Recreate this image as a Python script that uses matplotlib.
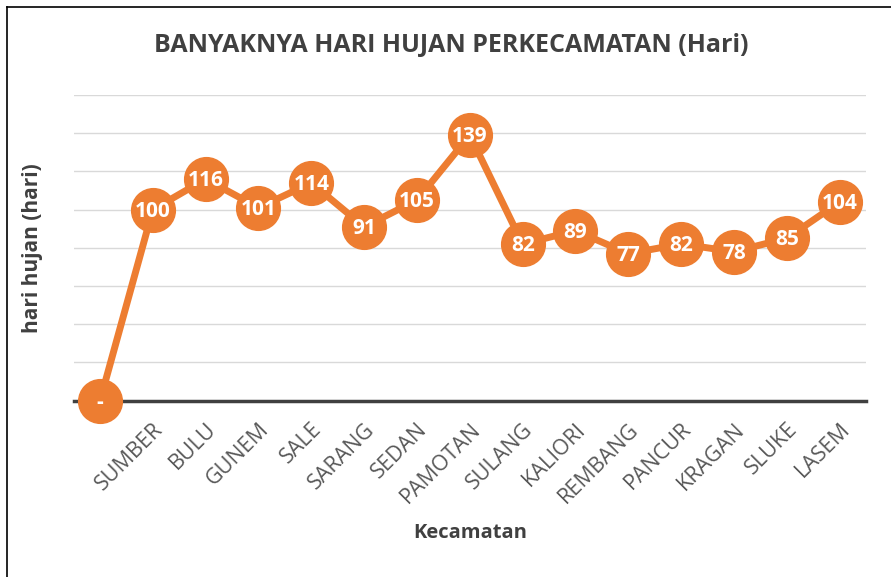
import matplotlib
matplotlib.use("Agg", force=True)

import matplotlib.pyplot as plt
from matplotlib.lines import Line2D

# -----------------------------
# Data
# -----------------------------
kecamatan = ["", "SUMBER", "BULU", "GUNEM", "SALE", "SARANG", "SEDAN", "PAMOTAN",
             "SULANG", "KALIORI", "REMBANG", "PANCUR", "KRAGAN", "SLUKE", "LASEM"]
hari_hujan = [0, 100, 116, 101, 114, 91, 105, 139, 82, 89, 77, 82, 78, 85, 104]
label_teks = ["-", "100", "116", "101", "114", "91", "105", "139", "82", "89",
              "77", "82", "78", "85", "104"]

ORANGE = "#ED7D31"
DARK = "#404040"
GRID = "#D9D9D9"

plt.rcParams["font.family"] = ["Open Sans", "DejaVu Sans"]

fig = plt.figure(figsize=(8.91, 5.77), dpi=100)
ax = fig.add_axes([73.6 / 891, 1 - 400.7 / 577, (866 - 73.6) / 891, (400.7 - 95) / 577])

x = list(range(len(kecamatan)))
ax.plot(x, hari_hujan, color=ORANGE, lw=5, marker="o", ms=31.5, mew=1,
        mfc=ORANGE, mec=ORANGE, clip_on=False, zorder=5, solid_capstyle="round")

for xi, yi, t in zip(x, hari_hujan, label_teks):
    ax.text(xi, yi - 0.8, t, color="white", fontsize=15, fontweight="bold",
            ha="center", va="center", zorder=6, clip_on=False)

ax.set_xlim(-0.5, len(kecamatan) - 0.5)
ax.set_ylim(0, 160)
ax.set_yticks(range(0, 161, 20))
ax.set_yticklabels([])
ax.tick_params(axis="y", length=0)
ax.grid(axis="y", color=GRID, lw=1)
ax.set_axisbelow(True)

ax.set_xticks(x)
ax.set_xticklabels(kecamatan, rotation=45, ha="right", va="top",
                   rotation_mode="anchor", fontsize=15.5, color="#595959")
ax.tick_params(axis="x", length=0, pad=13)

for s in ["top", "right", "left"]:
    ax.spines[s].set_visible(False)
ax.spines["bottom"].set_color(DARK)
ax.spines["bottom"].set_linewidth(2.5)
ax.spines["bottom"].set_zorder(3)

fig.text(451 / 891, 1 - 45 / 577, "BANYAKNYA HARI HUJAN PERKECAMATAN (Hari)",
         ha="center", va="center", fontsize=18, fontweight="bold", color=DARK)
fig.text(33 / 891, 1 - 248 / 577, "hari hujan (hari)", rotation=90,
         ha="center", va="center", fontsize=15, fontweight="bold", color=DARK)
fig.text(470 / 891, 1 - 533 / 577, "Kecamatan",
         ha="center", va="center", fontsize=14.5, fontweight="bold", color=DARK)

# chart border (left and top visible)
fig.add_artist(Line2D([7 / 891, 7 / 891], [0, 1 - 7 / 577], color="black", lw=1.2,
                      transform=fig.transFigure))
fig.add_artist(Line2D([7 / 891, 1], [1 - 7 / 577, 1 - 7 / 577], color="black", lw=1.2,
                      transform=fig.transFigure))

fig.savefig("out.png", dpi=100)
